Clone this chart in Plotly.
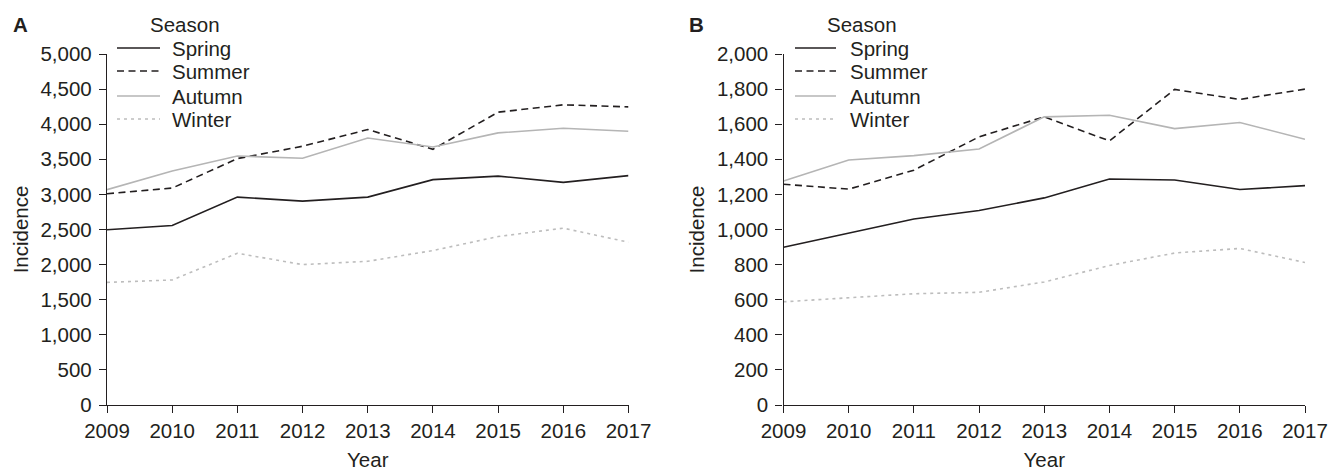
import plotly.graph_objects as go
from plotly.subplots import make_subplots

years = [2009, 2010, 2011, 2012, 2013, 2014, 2015, 2016, 2017]
seasons = ["Spring", "Summer", "Autumn", "Winter"]

# Panel A incidence by season
a_spring = [2496, 2557, 2961, 2904, 2961, 3210, 3261, 3171, 3267]
a_summer = [3010, 3090, 3510, 3686, 3924, 3643, 4171, 4276, 4247]
a_autumn = [3067, 3333, 3547, 3514, 3804, 3676, 3876, 3943, 3900]
a_winter = [1747, 1781, 2161, 2000, 2047, 2200, 2400, 2519, 2319]

# Panel B incidence by season
b_spring = [899, 980, 1060, 1108, 1180, 1288, 1282, 1228, 1250]
b_summer = [1258, 1230, 1338, 1528, 1642, 1505, 1798, 1741, 1800]
b_autumn = [1277, 1396, 1421, 1459, 1642, 1651, 1575, 1610, 1514]
b_winter = [588, 612, 634, 642, 701, 795, 866, 892, 812]

panel_a = [a_spring, a_summer, a_autumn, a_winter]
panel_b = [b_spring, b_summer, b_autumn, b_winter]

styles = {
    "Spring": dict(color="#231f20", width=1.6, dash="solid"),
    "Summer": dict(color="#231f20", width=1.6, dash="7px,4.5px"),
    "Autumn": dict(color="#b5b5b5", width=1.6, dash="solid"),
    "Winter": dict(color="#bdbdbd", width=1.6, dash="3px,4px"),
}

TXT = "#231f20"
FONT = "Liberation Sans, Arial, sans-serif"
FS = 20.5

W, H = 1330, 471
ML, MR, MT, MB = 107, 25, 54, 66
PW = W - ML - MR
PH = H - MT - MB


def px_x(x):
    return (x - ML) / PW


def px_y(y):
    return (H - MB - y) / PH


fig = make_subplots(rows=1, cols=2, horizontal_spacing=px_x(783) - px_x(628))

for col, data in [(1, panel_a), (2, panel_b)]:
    for name, vals in zip(seasons, data):
        fig.add_trace(
            go.Scatter(x=years, y=vals, mode="lines", name=name,
                       line=styles[name], showlegend=False),
            row=1, col=col,
        )

axis_common = dict(
    showgrid=False, zeroline=False, showline=True, linecolor=TXT, linewidth=1.3,
    ticks="outside", ticklen=7, tickwidth=1.3, tickcolor=TXT, automargin=False,
    tickfont=dict(size=FS, color=TXT, family=FONT),
)

fig.update_xaxes(range=[2009, 2017], tickvals=years, **axis_common,
                 title=dict(text="Year", font=dict(size=FS, color=TXT, family=FONT),
                            standoff=16))
fig.update_yaxes(**axis_common, tickformat=",", ticklabelstandoff=3,
                 title=dict(text="Incidence", font=dict(size=FS, color=TXT, family=FONT),
                            standoff=6))
fig.update_yaxes(range=[0, 5000], dtick=500, row=1, col=1)
fig.update_yaxes(range=[0, 2000], dtick=200, row=1, col=2)

# Legend drawn per panel: title, sample line, label
shapes = []
annotations = []
row_y = [48, 71, 96, 119]
for title_cx, line_x0, line_x1, text_x in [(185, 117, 160, 170), (862, 795, 836, 848)]:
    annotations.append(dict(
        text="Season", x=px_x(title_cx), y=px_y(25), xref="paper", yref="paper",
        xanchor="center", yanchor="middle", showarrow=False,
        font=dict(size=FS, color=TXT, family=FONT)))
    for name, ry in zip(seasons, row_y):
        shapes.append(dict(
            type="line", xref="paper", yref="paper",
            x0=px_x(line_x0), x1=px_x(line_x1), y0=px_y(ry), y1=px_y(ry),
            line=styles[name]))
        annotations.append(dict(
            text=name, x=px_x(text_x), y=px_y(ry), xref="paper", yref="paper",
            xanchor="left", yanchor="middle", showarrow=False,
            font=dict(size=FS, color=TXT, family=FONT)))

for letter, lx in [("A", 11), ("B", 687)]:
    annotations.append(dict(
        text="<b>" + letter + "</b>", x=px_x(lx), y=px_y(24), xref="paper", yref="paper",
        xanchor="left", yanchor="middle", showarrow=False,
        font=dict(size=FS, color=TXT, family=FONT)))

fig.update_layout(
    width=W, height=H,
    margin=dict(l=ML, r=MR, t=MT, b=MB),
    paper_bgcolor="white", plot_bgcolor="white",
    font=dict(family=FONT, color=TXT),
    showlegend=False,
    shapes=shapes,
    annotations=annotations,
)

fig.write_html("out.html")
